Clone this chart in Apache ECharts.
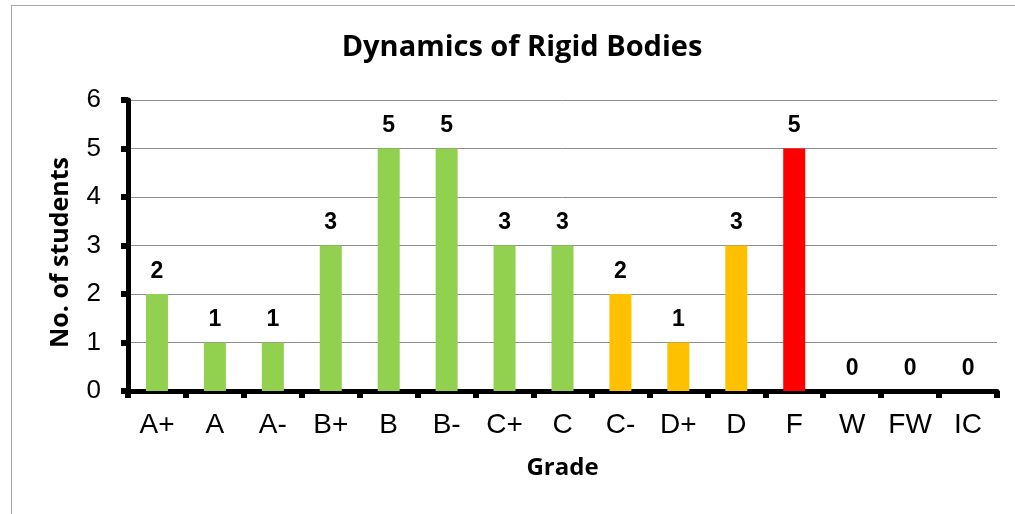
<!DOCTYPE html>
<html>
<head>
<meta charset="utf-8">
<script src="https://cdn.jsdelivr.net/npm/echarts@6/dist/echarts.min.js"></script>
<style>
  html, body { margin: 0; padding: 0; background: #fff; }
  #frame { position: absolute; left: 11px; top: 5px; width: 1020px; height: 520px; border: 1px solid #a6a6a6; box-sizing: border-box; }
  #chart { position: absolute; left: 0; top: 0; width: 1015px; height: 514px; }
</style>
</head>
<body>
<div id="frame"></div>
<div id="chart"></div>
<script>
const grades = ['A+', 'A', 'A-', 'B+', 'B', 'B-', 'C+', 'C', 'C-', 'D+', 'D', 'F', 'W', 'FW', 'IC']
const students = [2, 1, 1, 3, 5, 5, 3, 3, 2, 1, 3, 5, 0, 0, 0]
const barColors = ['#92d050', '#92d050', '#92d050', '#92d050', '#92d050', '#92d050', '#92d050', '#92d050',
  '#ffc000', '#ffc000', '#ffc000', '#ff0000', '#92d050', '#92d050', '#92d050']
const yTicks = [0, 1, 2, 3, 4, 5, 6]

const chart = echarts.init(document.getElementById('chart'))

const option = {
  animation: false,
  title: {
    text: 'Dynamics of Rigid Bodies',
    left: 517,
    top: 28,
    textAlign: 'center',
    textStyle: { fontFamily: 'Open Sans', fontWeight: 'bold', fontSize: 29, color: '#000' }
  },
  grid: { left: 128, right: 18, top: 100, bottom: 123 },
  xAxis: {
    type: 'category',
    data: grades,
    name: 'Grade',
    nameLocation: 'middle',
    nameGap: 65,
    nameTextStyle: { fontFamily: 'Open Sans', fontWeight: 'bold', fontSize: 24, color: '#000' },
    axisLine: { lineStyle: { color: '#000', width: 5 } },
    axisTick: { show: true, length: 7, lineStyle: { color: '#000', width: 6 } },
    axisLabel: { fontFamily: 'Liberation Sans', fontSize: 28, color: '#000', margin: 20 }
  },
  yAxis: {
    type: 'value',
    min: yTicks[0],
    max: yTicks[yTicks.length - 1],
    interval: 1,
    name: 'No. of students',
    nameLocation: 'middle',
    nameGap: 55,
    nameTextStyle: { fontFamily: 'Open Sans', fontWeight: 'bold', fontSize: 25, color: '#000', padding: [0, 14, 0, 0] },
    axisLine: { show: true, lineStyle: { color: '#000', width: 5 } },
    axisTick: { show: true, length: 7, lineStyle: { color: '#000', width: 6 } },
    axisLabel: { fontFamily: 'Liberation Sans', fontSize: 26, color: '#000', margin: 27 },
    splitLine: { lineStyle: { color: '#8c8c8c', width: 1 } }
  },
  series: [
    {
      type: 'bar',
      barWidth: '38%',
      data: students.map((v, i) => ({ value: v, itemStyle: { color: barColors[i] } })),
      label: {
        show: true,
        position: 'top',
        distance: 11,
        fontFamily: 'Liberation Sans',
        fontWeight: 'bold',
        fontSize: 23,
        color: '#000'
      }
    }
  ]
}

chart.setOption(option)
</script>
</body>
</html>
